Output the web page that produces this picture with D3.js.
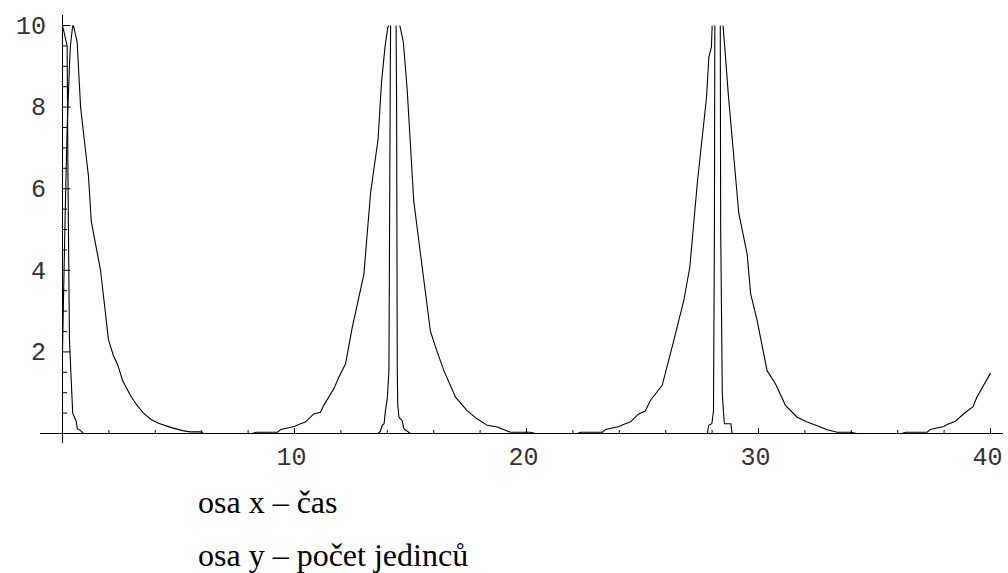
<!DOCTYPE html>
<html>
<head>
<meta charset="utf-8">
<script src="https://cdn.jsdelivr.net/npm/d3@7"></script>
<style>
  body { margin: 0; background: #fff; }
  svg { display: block; }
</style>
</head>
<body>
<svg width="1008" height="573"></svg>
<script>
// Two population curves over time, clipped at 10 like the original plot

// wide curve (time, value)
const wideTime = [0, 0.05, 0.12, 0.2, 0.3, 0.34, 0.44, 0.47, 0.63, 0.78, 1.0, 1.12, 1.24, 1.64, 1.98, 2.2, 2.37, 2.59, 2.93, 3.2, 3.49, 3.8, 4.14, 4.66, 5.17, 5.5, 5.95, 6.08,
  8.19, 8.34, 9.27, 9.41, 9.99, 10.26, 10.47, 10.83, 11.12, 11.26, 11.7, 11.91, 12.2, 12.49, 12.99, 13.28, 13.6, 13.75, 13.9, 14.02, 14.07, 14.09,
  14.5, 14.54, 14.69, 14.86, 15.14, 15.43, 15.86, 16.15, 16.44, 16.94, 17.44, 17.87, 18.31, 18.74, 19.31, 20.17, 20.39,
  22.19, 22.34, 23.27, 23.41, 23.99, 24.26, 24.47, 24.83, 25.12, 25.34, 25.85, 26.35, 26.78, 27.04, 27.36, 27.76, 27.86, 27.97, 28.0, 28.02,
  28.44, 28.47, 28.55, 28.7, 29.15, 29.51, 29.66, 29.94, 30.37, 30.73, 31.16, 31.67, 32.1, 32.67, 32.96, 33.39, 33.96, 34.25,
  36.19, 36.34, 37.27, 37.41, 37.99, 38.13, 38.49, 38.92, 39.25, 39.41, 40];
const wideValue = [2.0, 3.5, 5.5, 7.5, 9.0, 9.5, 10.0, 10.0, 9.6, 8.0, 6.9, 6.3, 5.2, 4.0, 2.3, 1.9, 1.7, 1.3, 0.93, 0.7, 0.5, 0.35, 0.25, 0.15, 0.07, 0.04, 0.04, 0,
  0, 0.03, 0.03, 0.1, 0.17, 0.24, 0.28, 0.48, 0.52, 0.69, 1.1, 1.38, 1.71, 2.6, 3.9, 5.9, 7.2, 8.6, 9.47, 9.95, 10.0, 11,
  11, 10.0, 9.6, 8.4, 5.7, 4.4, 2.5, 2.0, 1.54, 0.89, 0.56, 0.36, 0.2, 0.16, 0.03, 0.03, 0,
  0, 0.03, 0.03, 0.1, 0.17, 0.24, 0.28, 0.48, 0.55, 0.81, 1.18, 2.28, 3.26, 4.08, 6.12, 8.24, 9.22, 9.47, 9.95, 11,
  11, 10.0, 9.45, 8.3, 5.4, 4.4, 3.43, 2.77, 1.54, 1.22, 0.69, 0.4, 0.28, 0.16, 0.09, 0.03, 0.03, 0,
  0, 0.03, 0.03, 0.1, 0.17, 0.22, 0.3, 0.52, 0.66, 0.89, 1.48];

// narrow curve (time, value)
const narrowTime = [0, 0.2, 0.24, 0.3, 0.36, 0.44, 0.59, 0.64, 0.78, 0.9,
  13.6, 13.7, 13.78, 13.86, 13.92, 14.0, 14.07, 14.13, 14.15, 14.37, 14.4, 14.43, 14.45, 14.5, 14.64, 14.71, 14.92, 15.0,
  27.8, 27.85, 27.99, 28.06, 28.1, 28.12, 28.35, 28.37, 28.44, 28.5, 28.53, 28.81, 28.86, 40];
const narrowValue = [10.0, 9.5, 6.0, 2.3, 1.5, 0.5, 0.3, 0.12, 0.07, 0,
  0, 0.05, 0.2, 0.24, 0.56, 0.86, 1.54, 9.0, 10.6, 10.6, 8.3, 1.54, 0.73, 0.4, 0.32, 0.12, 0.03, 0,
  0, 0.2, 0.24, 0.56, 5.0, 10.6, 10.6, 5.0, 0.97, 0.44, 0.24, 0.24, 0, 0];

const xMajor = [10, 20, 30, 40];
const yMajor = [2, 4, 6, 8, 10];
const captions = ["osa x – čas", "osa y – počet jedinců"];

const svg = d3.select("svg");

const x = d3.scaleLinear().domain([0, 40]).range([62.5, 990.5]);
const y = d3.scaleLinear().domain([0, 10]).range([433.5, 25.5]);

// clip at the plot range
svg.append("clipPath").attr("id", "clip")
  .append("rect")
  .attr("x", x(0) - 2).attr("y", y(10))
  .attr("width", x(40) - x(0) + 4).attr("height", y(0) - y(10) + 2);

// axes
const ax = svg.append("g").attr("stroke", "#000").attr("stroke-width", 1);
ax.append("line").attr("x1", 40).attr("x2", 1003).attr("y1", y(0)).attr("y2", y(0));
ax.append("line").attr("x1", x(0)).attr("x2", x(0)).attr("y1", 15).attr("y2", 443);

// x ticks, minor every 2
d3.range(2, 41, 2).forEach(t => {
  const len = xMajor.includes(t) ? 5.5 : 3.5;
  ax.append("line").attr("x1", x(t)).attr("x2", x(t)).attr("y1", y(0)).attr("y2", y(0) - len);
});
// y ticks, minor every 0.5
d3.range(0.5, 10.01, 0.5).forEach(v => {
  const len = yMajor.includes(v) ? 8 : 4.5;
  ax.append("line").attr("x1", x(0)).attr("x2", x(0) + len).attr("y1", y(v)).attr("y2", y(v));
});

// tick labels
const lab = svg.append("g")
  .attr("font-family", "'Liberation Mono', 'Courier New', monospace")
  .attr("font-size", 25)
  .attr("fill", "#333");

lab.selectAll(".xl").data(xMajor).enter().append("text")
  .attr("x", d => x(d) - 3)
  .attr("y", 465)
  .attr("text-anchor", "middle")
  .text(d => d);

lab.selectAll(".yl").data(yMajor).enter().append("text")
  .attr("x", 46)
  .attr("y", d => y(d) + 8.3)
  .attr("text-anchor", "end")
  .text(d => d);

// curves
const line = d3.line().x(d => x(d[0])).y(d => y(d[1]));
const plot = svg.append("g").attr("clip-path", "url(#clip)");

plot.append("path")
  .datum(d3.zip(wideTime, wideValue))
  .attr("d", line)
  .attr("fill", "none")
  .attr("stroke", "#000")
  .attr("stroke-width", 1.1);

plot.append("path")
  .datum(d3.zip(narrowTime, narrowValue))
  .attr("d", line)
  .attr("fill", "none")
  .attr("stroke", "#000")
  .attr("stroke-width", 1.1);

// captions under the chart
svg.selectAll(".cap").data(captions).enter().append("text")
  .attr("x", 198)
  .attr("y", (d, i) => 513 + i * 53)
  .attr("font-family", "'Liberation Serif', 'Times New Roman', serif")
  .attr("font-size", 32)
  .attr("fill", "#000")
  .text(d => d);
</script>
</body>
</html>
